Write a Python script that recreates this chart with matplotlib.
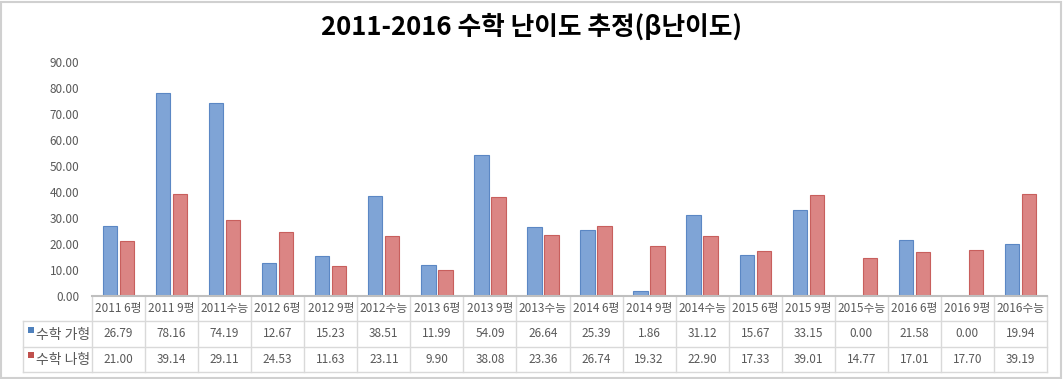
import numpy as np
import matplotlib.pyplot as plt
from matplotlib.patches import Rectangle
from matplotlib.transforms import blended_transform_factory

plt.rcParams['font.family'] = ['Noto Sans CJK KR', 'DejaVu Sans']

categories = ['2011 6평', '2011 9평', '2011수능', '2012 6평', '2012 9평', '2012수능',
              '2013 6평', '2013 9평', '2013수능', '2014 6평', '2014 9평', '2014수능',
              '2015 6평', '2015 9평', '2015수능', '2016 6평', '2016 9평', '2016수능']
math_ga = [26.79, 78.16, 74.19, 12.67, 15.23, 38.51, 11.99, 54.09, 26.64,
           25.39, 1.86, 31.12, 15.67, 33.15, 0.00, 21.58, 0.00, 19.94]
math_na = [21.00, 39.14, 29.11, 24.53, 11.63, 23.11, 9.90, 38.08, 23.36,
           26.74, 19.32, 22.90, 17.33, 39.01, 14.77, 17.01, 17.70, 39.19]
series_names = ['수학 가형', '수학 나형']
yticks = np.arange(0, 91, 10)

W, H = 1063, 379
fig = plt.figure(figsize=(W / 100, H / 100), dpi=100)

# outer frame
fig.patches.append(Rectangle((1 / W, 1 / H), 1 - 3 / W, 1 - 3 / H, transform=fig.transFigure,
                             fill=False, edgecolor='#D0D0D0', linewidth=1.5))

x0, x1 = 92, 1047
y_top, y_zero = 62, 296
ax = fig.add_axes([x0 / W, (H - y_zero) / H, (x1 - x0) / W, (y_zero - y_top) / H])

x = np.arange(len(categories))
bw = 0.27
ax.bar(x - 0.16, math_ga, width=bw, color='#7FA4D6', edgecolor='#5B87C4', linewidth=0.8)
ax.bar(x + 0.16, math_na, width=bw, color='#DB8584', edgecolor='#C85F5D', linewidth=0.8)

ax.set_xlim(-0.5, len(categories) - 0.5)
ax.set_ylim(0, 90)
ax.set_yticks(yticks)
ax.set_yticklabels([f'{v:.2f}' for v in yticks], fontsize=8.5, color='#595959')
ax.tick_params(axis='y', length=0, pad=9)
ax.set_xticks([])
for s in ['top', 'right', 'left']:
    ax.spines[s].set_visible(False)
ax.spines['bottom'].set_color('#BFBFBF')
ax.spines['bottom'].set_linewidth(1.5)

fig.text(0.5, 1 - 27 / H, '2011-2016 수학 난이도 추정(β난이도)', fontsize=18.5,
         fontweight='bold', ha='center', va='center', color='black')

# data table below the axis
tr = blended_transform_factory(ax.transData, ax.transAxes)
ph = y_zero - y_top
row_h = 25.3 / ph
grid = '#D9D9D9'
unit = (x1 - x0) / len(categories)
left_x = -0.5 - (x0 - 23) / unit

for k in (1, 2, 3):
    ax.plot([left_x, len(categories) - 0.5], [-k * row_h] * 2,
            transform=tr, color=grid, lw=1, clip_on=False)
for i in range(len(categories) + 1):
    ax.plot([i - 0.5] * 2, [0, -3 * row_h], transform=tr, color=grid, lw=1, clip_on=False)
ax.plot([left_x] * 2, [-row_h, -3 * row_h], transform=tr, color=grid, lw=1, clip_on=False)

for i, c in enumerate(categories):
    ax.text(i, -0.5 * row_h, c, transform=tr, ha='center', va='center',
            fontsize=8.5, color='#595959')
    ax.text(i, -1.5 * row_h, f'{math_ga[i]:.2f}', transform=tr, ha='center', va='center',
            fontsize=8.5, color='#595959')
    ax.text(i, -2.5 * row_h, f'{math_na[i]:.2f}', transform=tr, ha='center', va='center',
            fontsize=8.5, color='#595959')

for r, (name, col) in enumerate(zip(series_names, ['#4F81BD', '#C0504D'])):
    yy = -(1.5 + r) * row_h
    ax.add_patch(Rectangle((left_x + 5 / unit, yy + 1 / ph), 6 / unit, 6 / ph, transform=tr,
                           facecolor=col, edgecolor='none', clip_on=False))
    ax.text(left_x + 13 / unit, yy - 1 / ph, name, transform=tr, ha='left', va='center',
            fontsize=10, color='#595959')

fig.savefig('out.png', dpi=100)
